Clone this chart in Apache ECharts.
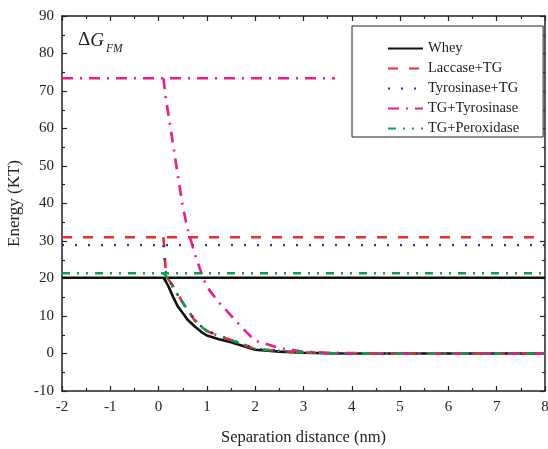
<!DOCTYPE html>
<html>
<head>
<meta charset="utf-8">
<script src="https://cdn.jsdelivr.net/npm/echarts@6/dist/echarts.min.js"></script>
<style>
  html, body { margin: 0; padding: 0; background: #fff; }
  #chart { width: 548px; height: 449px; }
</style>
</head>
<body>
<div id="chart"></div>
<script>
// Separation distance (nm) at which each energy profile is sampled
const distance = [0.1, 0.15, 0.2, 0.3, 0.4, 0.5, 0.6, 0.75, 0.9, 1.0, 1.25, 1.5, 1.75, 2.0, 2.5, 3.0, 3.5, 4, 5, 6, 7, 8];

// Energy (KT) profiles
const whey          = [20.2, 19.2, 18.0, 15.1, 12.5, 10.8, 9.0, 7.2, 5.6, 4.8, 3.8, 3.0, 2.0, 1.0, 0.5, 0.2, 0.05, 0, 0, 0, 0, 0];
const laccaseTG     = [31.0, 21.8, 19.8, 18.0, 15.8, 13.6, 11.5, 8.8, 6.8, 6.0, 4.6, 3.6, 2.4, 1.2, 0.7, 0.3, 0.1, 0.05, 0, 0, 0, 0];
const tyrosinaseTG  = [28.9, 21.5, 19.6, 17.8, 15.6, 13.5, 11.5, 9.0, 7.0, 6.1, 4.7, 3.7, 2.5, 1.3, 0.7, 0.3, 0.1, 0.05, 0, 0, 0, 0];
const tgTyrosinase  = [73.4, 68.1, 64.0, 55.8, 47.3, 39.3, 33.2, 26.5, 21.0, 17.8, 13.6, 10.1, 6.6, 3.4, 1.5, 0.5, 0.2, 0.1, 0, 0, 0, 0];
const tgPeroxidase  = [21.4, 20.8, 19.5, 17.5, 15.4, 13.6, 11.6, 9.0, 7.0, 6.0, 4.6, 3.6, 2.4, 1.2, 0.7, 0.3, 0.1, 0.05, 0, 0, 0, 0];

// Energy barrier levels (KT) and the distance range each one is drawn over
const seriesNames   = ['Whey', 'Laccase+TG', 'Tyrosinase+TG', 'TG+Tyrosinase', 'TG+Peroxidase'];
const barrierLevel  = [20.2, 31.0, 28.9, 73.4, 21.4];
const barrierStart  = [-2, -2, -2, -2, -2];
const barrierEnd    = [8, 8, 8, 3.65, 8];

// Axis ranges and ticks
const xMin = -2, xMax = 8, xStep = 1;
const yMin = -10, yMax = 90, yStep = 10;

const profiles = [whey, laccaseTG, tyrosinaseTG, tgTyrosinase, tgPeroxidase];
const colors = ['#111111', '#ee2a2e', '#2e3192', '#ea1e8a', '#0a9e4e'];
const dashes = ['solid', [10, 11], [2, 11], [11, 7, 2, 7], [8, 7, 2, 7, 2, 7]];
const widths = [2.6, 2.6, 2.4, 2.6, 2.6];

const serif = '"Liberation Serif", "Times New Roman", serif';
const textColor = '#222';

const series = [];
seriesNames.forEach((name, i) => {
  const lineStyle = { color: colors[i], width: widths[i], type: dashes[i], cap: 'butt' };
  series.push({
    name: name,
    type: 'line',
    symbol: 'none',
    animation: false,
    lineStyle: lineStyle,
    itemStyle: { color: colors[i] },
    data: distance.map((d, k) => [d, profiles[i][k]]),
    z: 3 + i
  });
  series.push({
    name: name,
    type: 'line',
    symbol: 'none',
    animation: false,
    lineStyle: lineStyle,
    itemStyle: { color: colors[i] },
    data: [[barrierStart[i], barrierLevel[i]], [barrierEnd[i], barrierLevel[i]]],
    z: 3 + i
  });
});

const tickCommon = {
  axisLine: { show: true, onZero: false, lineStyle: { color: '#222', width: 1.5 } },
  axisTick: { show: true, inside: true, length: 5, lineStyle: { color: '#222', width: 1.2 } },
  minorTick: { show: true, splitNumber: 2, length: 3, lineStyle: { color: '#222', width: 1.2 } },
  splitLine: { show: false }
};

const chart = echarts.init(document.getElementById('chart'), null, { renderer: 'canvas' });
chart.setOption({
  animation: false,
  backgroundColor: '#fff',
  grid: { left: 62, right: 3, top: 16, bottom: 58, containLabel: false, outerBoundsMode: 'none' },
  xAxis: [
    Object.assign({
      type: 'value', min: xMin, max: xMax, interval: xStep, position: 'bottom',
      name: 'Separation distance (nm)', nameLocation: 'middle', nameGap: 38,
      nameTextStyle: { fontFamily: serif, fontSize: 16.5, color: textColor },
      axisLabel: { fontFamily: serif, fontSize: 15, color: textColor, margin: 9 }
    }, tickCommon),
    Object.assign({
      type: 'value', min: xMin, max: xMax, interval: xStep, position: 'top',
      axisLabel: { show: false }
    }, tickCommon)
  ],
  yAxis: [
    Object.assign({
      type: 'value', min: yMin, max: yMax, interval: yStep, position: 'left',
      name: 'Energy (KT)', nameLocation: 'middle', nameGap: 33,
      nameTextStyle: { fontFamily: serif, fontSize: 17, color: textColor },
      axisLabel: { fontFamily: serif, fontSize: 15, color: textColor, margin: 8 }
    }, tickCommon),
    Object.assign({
      type: 'value', min: yMin, max: yMax, interval: yStep, position: 'right',
      axisLabel: { show: false }
    }, tickCommon)
  ],
  legend: {
    data: seriesNames,
    orient: 'vertical',
    left: 352,
    top: 26,
    itemWidth: 35,
    itemHeight: 14,
    itemGap: 5,
    padding: [15, 24, 1, 35],
    borderColor: '#222',
    borderWidth: 1,
    backgroundColor: '#fff',
    itemStyle: { opacity: 0 },
    textStyle: { fontFamily: serif, fontSize: 14.5, color: textColor },
    selectedMode: false
  },
  graphic: [
    {
      type: 'text',
      left: 78,
      top: 31,
      style: {
        text: '{d|Δ}{g|G}',
        rich: {
          d: { fontFamily: serif, fontSize: 19, fill: textColor },
          g: { fontFamily: serif, fontSize: 19, fontStyle: 'italic', fill: textColor }
        }
      }
    },
    {
      type: 'text',
      left: 106,
      top: 43,
      style: { text: 'FM', fontFamily: serif, fontSize: 11.5, fontStyle: 'italic', fill: textColor }
    }
  ],
  series: series
});
</script>
</body>
</html>
